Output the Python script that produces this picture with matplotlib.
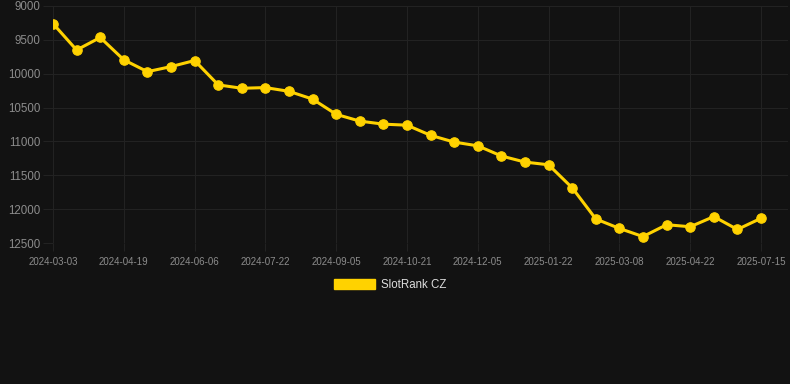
import matplotlib
matplotlib.use("Agg")
import matplotlib.pyplot as plt
from matplotlib.patches import Patch

plt.rcParams["font.family"] = ["Liberation Sans", "DejaVu Sans"]

# Datos (ranking, eje invertido)
rangos = [
    9260, 9650, 9465, 9795, 9970, 9895, 9805, 10165, 10215, 10205,
    10260, 10375, 10600, 10700, 10745, 10760, 10910, 11010, 11065, 11215,
    11305, 11345, 11685, 12145, 12285, 12405, 12230, 12260, 12110, 12300,
    12135,
]
etiquetas_x = [
    "2024-03-03", "2024-04-19", "2024-06-06", "2024-07-22", "2024-09-05",
    "2024-10-21", "2024-12-05", "2025-01-22", "2025-03-08", "2025-04-22",
    "2025-07-15",
]
ticks_y = [9000, 9500, 10000, 10500, 11000, 11500, 12000, 12500]
serie = "SlotRank CZ"

fondo = "#121212"
amarillo = "#FFD200"
rejilla = "#222222"
gris = "#8c8c8c"

W, H = 790, 384
fig = plt.figure(figsize=(W / 100, H / 100), dpi=100, facecolor=fondo)
ax = fig.add_axes([53 / W, (H - 243) / H, (788 - 53) / W, (243 - 6) / H])
ax.set_facecolor(fondo)

x = list(range(len(rangos)))
ax.plot(x, rangos, color=amarillo, linewidth=2.2, marker="o", markersize=6.8,
        markerfacecolor=amarillo, markeredgecolor=amarillo, markeredgewidth=0.8,
        zorder=3)

pos_ticks = list(range(0, len(rangos), 3))
ax.set_xticks(pos_ticks)
ax.set_xticklabels(etiquetas_x)
ax.set_xlim(0, 30 + 27 / 23.6)

ax.set_yticks(ticks_y)
ax.set_yticklabels([str(v) for v in ticks_y])
ax.set_ylim(12500, 9000)

ax.grid(True, color=rejilla, linewidth=0.8)
ax.set_axisbelow(True)
for s in ax.spines.values():
    s.set_visible(False)
ax.tick_params(axis="y", length=7, color=rejilla, labelcolor=gris, labelsize=8.3, pad=2)
ax.tick_params(axis="x", length=6, color=rejilla, labelcolor=gris, labelsize=7, pad=4)

handle = Patch(facecolor=amarillo, edgecolor=amarillo)
leg = fig.legend([handle], [serie], loc="center", bbox_to_anchor=(0.494, 1 - 285 / H),
                 frameon=False, fontsize=8.3, handlelength=3.6, handleheight=1.0,
                 handletextpad=0.5)
for t in leg.get_texts():
    t.set_color("#dddddd")

fig.savefig("out.png", dpi=100, facecolor=fondo)
